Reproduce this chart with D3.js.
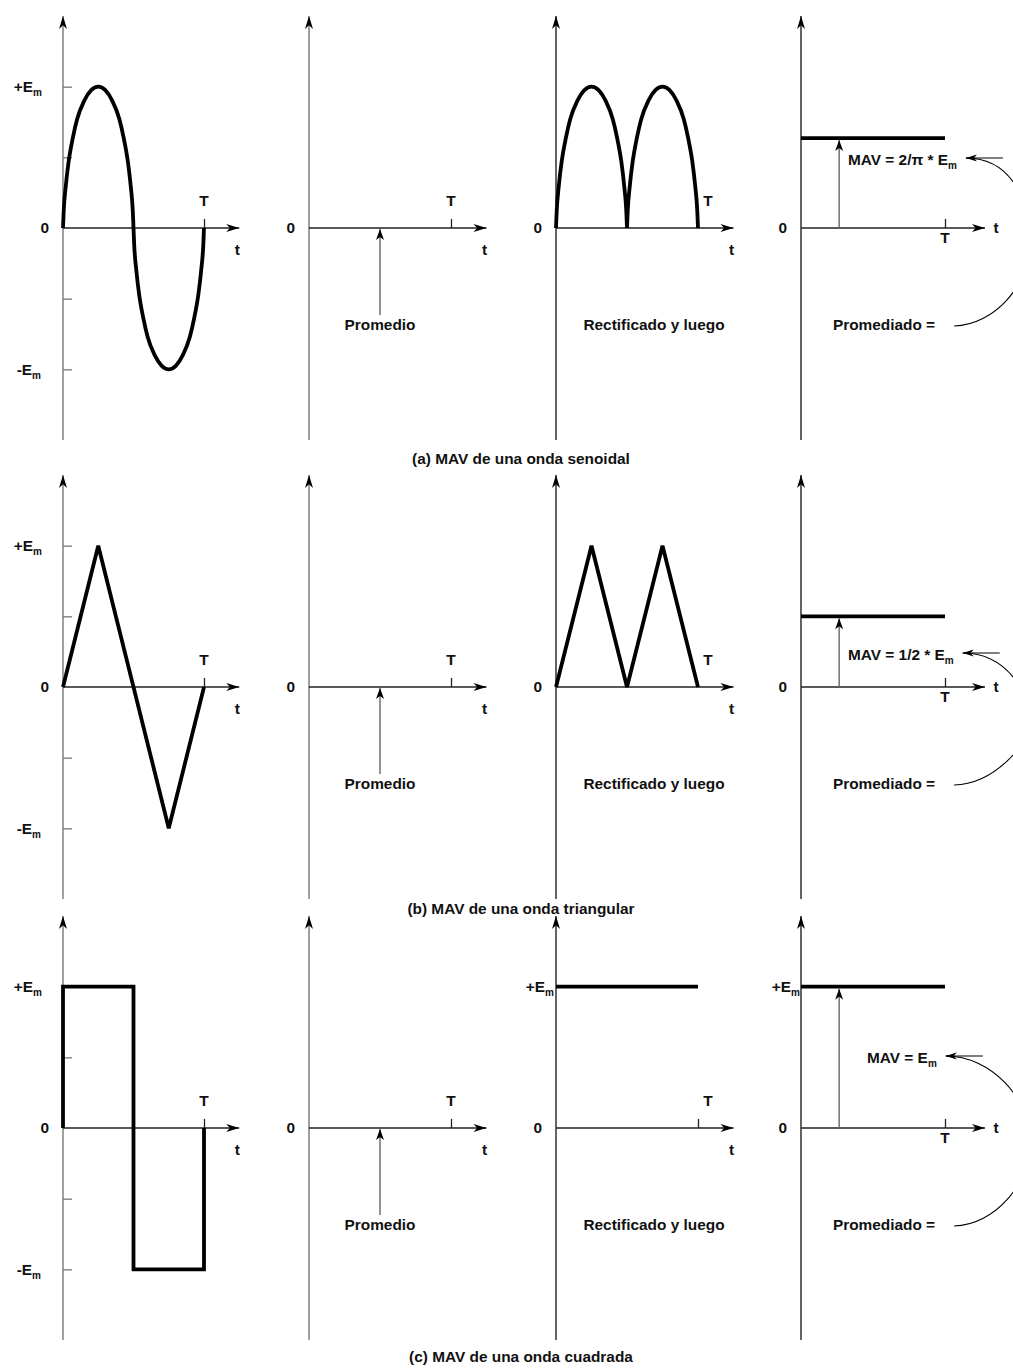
<!DOCTYPE html>
<html>
<head>
<meta charset="utf-8">
<script src="https://cdn.jsdelivr.net/npm/d3@7"></script>
<style>
  html, body { margin: 0; padding: 0; background: #fff; }
  svg text { font-family: "Liberation Sans", Arial, sans-serif; font-weight: bold; fill: #111; }
</style>
</head>
<body>
<svg id="chart" width="1013" height="1368"></svg>
<script>
// ---- data ----
const captions = [
  "(a) MAV de una onda senoidal",
  "(b) MAV de una onda triangular",
  "(c) MAV de una onda cuadrada"
];
// one period of each input waveform (t in periods, value in units of Em)
const sineT = [0, 0.005, 0.02, 0.04, 0.07, 0.1, 0.15, 0.2, 0.25, 0.3, 0.35, 0.4, 0.43, 0.46, 0.48, 0.495, 0.5,
               0.505, 0.52, 0.54, 0.57, 0.6, 0.65, 0.7, 0.75, 0.8, 0.85, 0.9, 0.93, 0.96, 0.98, 0.995, 1];
const sineV = [0, 0.12, 0.3, 0.47, 0.64, 0.77, 0.9, 0.975, 1, 0.975, 0.9, 0.77, 0.64, 0.47, 0.3, 0.12, 0,
               -0.12, -0.3, -0.47, -0.64, -0.77, -0.9, -0.975, -1, -0.975, -0.9, -0.77, -0.64, -0.47, -0.3, -0.12, 0];
const triT  = [0, 0.25, 0.75, 1];
const triV  = [0, 1, -1, 0];
const sqT   = [0, 0, 0.5, 0.5, 1, 1];
const sqV   = [0, 1, 1, -1, -1, 0];
// rectified waveforms
const rectSineT = sineT;
const rectSineV = [0, 0.12, 0.3, 0.47, 0.64, 0.77, 0.9, 0.975, 1, 0.975, 0.9, 0.77, 0.64, 0.47, 0.3, 0.12, 0,
                   0.12, 0.3, 0.47, 0.64, 0.77, 0.9, 0.975, 1, 0.975, 0.9, 0.77, 0.64, 0.47, 0.3, 0.12, 0];
const rectTriT  = [0, 0.25, 0.5, 0.75, 1];
const rectTriV  = [0, 1, 0, 1, 0];
const rectSqT   = [0, 1];
const rectSqV   = [1, 1];
// mean absolute values
const mavV = [0.6366, 0.5, 1];
const mavLabels = [
  ["MAV = 2/\u03C0 * E", "m"],
  ["MAV = 1/2 * E", "m"],
  ["MAV = E", "m"]
];
const stepText = ["Promedio", "Rectificado y luego", "Promediado ="];

// ---- layout ----
const svg = d3.select("#chart");
const panelX = [63, 309, 556, 801];
const periodW = [141, 142, 142, 144];
const rowZero = [228, 687, 1128];
const halfH = 212;
const FS = 15.4;

const defs = svg.append("defs");
function marker(id, len, hw, color) {
  defs.append("marker")
    .attr("id", id)
    .attr("markerUnits", "userSpaceOnUse")
    .attr("viewBox", `${-len - 1} ${-hw - 1} ${len + 2} ${2 * hw + 2}`)
    .attr("refX", 0).attr("refY", 0)
    .attr("markerWidth", len + 2).attr("markerHeight", 2 * hw + 2)
    .attr("orient", "auto")
    .append("path")
    .attr("d", `M0,0 L${-len},${-hw} L${-len * 0.72},0 L${-len},${hw} Z`)
    .attr("fill", color);
}
marker("axArrow", 13, 4, "#000");
marker("smArrow", 11, 4, "#000");
marker("curveArrow", 11, 3.6, "#000");

function emLabel(g, x, y, sign, anchor) {
  const t = g.append("text").attr("x", x).attr("y", y).attr("dy", "0.35em")
    .attr("text-anchor", anchor || "end").style("font-size", FS + "px");
  t.append("tspan").text(sign + "E");
  t.append("tspan").attr("dy", 4).style("font-size", "10px").text("m");
  return t;
}

const waves = [
  { input: [sineT, sineV], rect: [rectSineT, rectSineV], curve: d3.curveMonotoneX, split: 16 },
  { input: [triT, triV], rect: [rectTriT, rectTriV], curve: d3.curveLinear, split: 0 },
  { input: [sqT, sqV], rect: [rectSqT, rectSqV], curve: d3.curveLinear, split: 0 }
];

rowZero.forEach((zero, r) => {
  const row = svg.append("g");
  const y = d3.scaleLinear().domain([-1.5, 1.5]).range([zero + halfH, zero - halfH]);

  panelX.forEach((px, p) => {
    const g = row.append("g");
    const x = d3.scaleLinear().domain([0, 1]).range([px, px + periodW[p]]);
    const yAxisColor = p < 2 ? "#777" : "#222";

    // vertical axis with arrow
    g.append("line")
      .attr("x1", x(0)).attr("x2", x(0))
      .attr("y1", y(-1.5)).attr("y2", y(1.5))
      .attr("stroke", yAxisColor).attr("stroke-width", 1.4)
      .attr("marker-end", "url(#axArrow)");
    // horizontal axis with arrow
    g.append("line")
      .attr("x1", x(0)).attr("x2", x(1.25) + (p === 3 ? 4 : 0))
      .attr("y1", y(0)).attr("y2", y(0))
      .attr("stroke", "#222").attr("stroke-width", 1.3)
      .attr("marker-end", "url(#axArrow)");

    // zero label
    g.append("text").attr("x", x(0) - 14).attr("y", y(0)).attr("dy", "0.35em")
      .attr("text-anchor", "end").style("font-size", FS + "px").text("0");

    // T tick on the time axis
    if (p !== 2 || r === 2) {
      const tk = g.append("g").attr("transform", `translate(0,${y(0)})`)
        .call(d3.axisTop(x).tickValues([1]).tickSize(9).tickFormat(""));
      tk.select(".domain").remove();
      tk.selectAll("line").attr("stroke", "#222").attr("stroke-width", 1.3);
    }
    // T and t labels
    if (p === 3) {
      g.append("text").attr("x", x(1)).attr("y", y(0) + 10).attr("dy", "0.35em")
        .attr("text-anchor", "middle").style("font-size", FS + "px").text("T");
      g.append("text").attr("x", x(1.25) + 15).attr("y", y(0)).attr("dy", "0.35em")
        .attr("text-anchor", "middle").style("font-size", FS + "px").text("t");
    } else {
      g.append("text").attr("x", x(1) + (p === 2 ? 10 : 0)).attr("y", y(0) - 27).attr("dy", "0.35em")
        .attr("text-anchor", "middle").style("font-size", FS + "px").text("T");
      g.append("text").attr("x", x(1.25) - 2).attr("y", y(0) + 22).attr("dy", "0.35em")
        .attr("text-anchor", "middle").style("font-size", FS + "px").text("t");
    }

    const wave = waves[r];
    const lineGen = d3.line().x(d => x(d[0])).y(d => y(d[1]));
    const waveStyle = sel => sel.attr("fill", "none").attr("stroke", "#000")
      .attr("stroke-width", 3.8).attr("stroke-linejoin", "miter");

    if (p === 0) {
      // amplitude ticks on the input panel
      const ax = g.append("g").attr("transform", `translate(${x(0)},0)`)
        .call(d3.axisRight(y).tickValues([-1, -0.5, 0.5, 1]).tickSize(9).tickFormat(""));
      ax.select(".domain").remove();
      ax.selectAll("line").attr("stroke", "#777").attr("stroke-width", 1.3);
      emLabel(g, x(0) - 21, y(1), "+");
      emLabel(g, x(0) - 22, y(-1), "-");

      const pts = wave.input[0].map((t, i) => [t, wave.input[1][i]]);
      g.append("path").datum(pts).attr("d", lineGen.curve(wave.curve)).call(waveStyle);
    }

    if (p === 1) {
      const tx = x(0.5);
      g.append("line").attr("x1", tx).attr("x2", tx)
        .attr("y1", y(0) + 87).attr("y2", y(0) + 1)
        .attr("stroke", "#666").attr("stroke-width", 1.4)
        .attr("marker-end", "url(#smArrow)");
    }

    if (p === 2) {
      const pts = wave.rect[0].map((t, i) => [t, wave.rect[1][i]]);
      // keep the cusp of the rectified sine by drawing each arch separately
      const segs = wave.split ? [pts.slice(0, wave.split + 1), pts.slice(wave.split)] : [pts];
      segs.forEach(s => {
        g.append("path").datum(s).attr("d", lineGen.curve(wave.curve)).call(waveStyle);
      });
      if (r === 2) emLabel(g, x(0) - 2, y(1), "+");
    }

    if (p === 3) {
      const mav = mavV[r];
      g.append("path").datum([[0, mav], [1, mav]])
        .attr("d", lineGen.curve(d3.curveLinear)).call(waveStyle);
      const ax = x(0.265);
      g.append("line").attr("x1", ax).attr("x2", ax)
        .attr("y1", y(0)).attr("y2", y(mav) + 2)
        .attr("stroke", "#666").attr("stroke-width", 1.4)
        .attr("marker-end", "url(#smArrow)");
      if (r === 2) emLabel(g, x(0) - 1, y(1), "+");

      // MAV label
      const ly = r === 0 ? y(0) - 68 : (r === 1 ? y(0) - 32 : y(0) - 70);
      const lx = r === 2 ? 867 : 848;
      const lab = g.append("text").attr("x", lx).attr("y", ly).attr("dy", "0.35em")
        .style("font-size", FS + "px");
      lab.append("tspan").text(mavLabels[r][0]);
      lab.append("tspan").attr("dy", 4).style("font-size", "10px").text(mavLabels[r][1]);
      const lend = lx + lab.node().getComputedTextLength() + 9;

      // "Promediado =" with curved pointer to the MAV label
      const by = y(0) + 97;
      const st = g.append("text").attr("x", 884).attr("y", by).attr("dy", "0.35em")
        .attr("text-anchor", "middle").style("font-size", FS + "px").text(stepText[2]);
      const sx = 884 + st.node().getComputedTextLength() / 2 + 19;
      const xr = 1030, ym = (by + ly) / 2;
      g.append("path")
        .attr("d", `M${sx},${by + 1} C${sx + 40},${by} ${xr},${by - 40} ${xr},${ym} ` +
                   `C${xr},${ly + 40} ${lend + 45},${ly - 2} ${lend},${ly - 2}`)
        .attr("fill", "none").attr("stroke", "#000").attr("stroke-width", 1.1)
        .attr("marker-end", "url(#curveArrow)");
      g.append("line").attr("x1", lend).attr("x2", lend + 37)
        .attr("y1", ly - 2).attr("y2", ly - 2)
        .attr("stroke", "#000").attr("stroke-width", 1.1);
    }
  });

  // step labels under panels 2 and 3
  row.append("text").attr("x", 380).attr("y", zero + 97).attr("dy", "0.35em")
    .attr("text-anchor", "middle").style("font-size", FS + "px").text(stepText[0]);
  row.append("text").attr("x", 654).attr("y", zero + 97).attr("dy", "0.35em")
    .attr("text-anchor", "middle").style("font-size", FS + "px").text(stepText[1]);
});

// captions
const capY = [459, 909, 1357];
captions.forEach((c, i) => {
  svg.append("text").attr("x", 521).attr("y", capY[i]).attr("dy", "0.35em")
    .attr("text-anchor", "middle").style("font-size", FS + "px").text(c);
});
</script>
</body>
</html>
